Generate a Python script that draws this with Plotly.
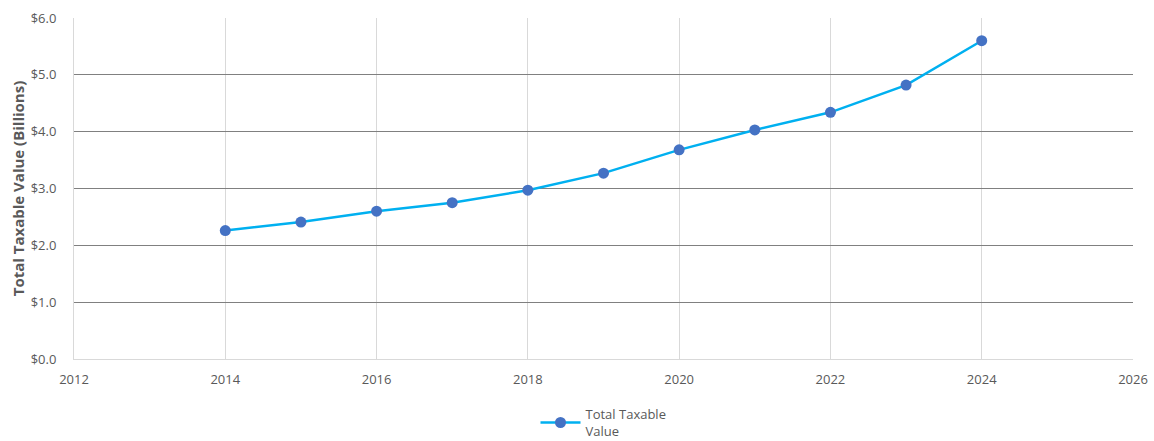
import plotly.graph_objects as go

years = [2014, 2015, 2016, 2017, 2018, 2019, 2020, 2021, 2022, 2023, 2024]
values = [2.26, 2.41, 2.60, 2.75, 2.97, 3.27, 3.68, 4.03, 4.34, 4.82, 5.60]
series_name = "Total Taxable<br>Value"
y_ticks = [0, 1, 2, 3, 4, 5, 6]
y_tick_labels = ["$0.0", "$1.0", "$2.0", "$3.0", "$4.0", "$5.0", "$6.0"]

fig = go.Figure()
fig.add_trace(go.Scatter(
    x=years, y=values, mode="lines+markers", name=series_name,
    line=dict(color="#00B0F0", width=2.5),
    marker=dict(color="#4472C4", size=11),
))

fnt = "Open Sans, Liberation Sans, sans-serif"
fig.update_layout(
    width=1154, height=441,
    margin=dict(l=74, r=21, t=18, b=82, autoexpand=False),
    paper_bgcolor="white", plot_bgcolor="white",
    font=dict(family=fnt, size=12, color="#595959"),
    showlegend=True,
    legend=dict(orientation="h", x=0.5, xanchor="center", xref="paper",
                y=0.095, yanchor="top", yref="container",
                font=dict(size=13, color="#595959"), itemwidth=40),
)
fig.update_xaxes(
    range=[2012, 2026], dtick=2, tick0=2012,
    showgrid=True, gridcolor="#D9D9D9", gridwidth=1,
    showline=True, linecolor="#D9D9D9", linewidth=1, mirror=False,
    zeroline=False, ticks="", ticklabelstandoff=8, automargin=False,
    tickfont=dict(size=13, color="#595959"),
)
fig.update_yaxes(
    range=[0, 6], tickvals=y_ticks, ticktext=y_tick_labels,
    showgrid=True, gridcolor="#808080", gridwidth=1,
    showline=True, linecolor="#D9D9D9", linewidth=1,
    zeroline=False, ticks="", ticklabelstandoff=14, automargin=False,
    tickfont=dict(size=13, color="#595959"),
    title=dict(text="<b>Total Taxable Value (Billions)</b>", font=dict(size=15, color="#595959"), standoff=2),
)
fig.write_html("out.html")
